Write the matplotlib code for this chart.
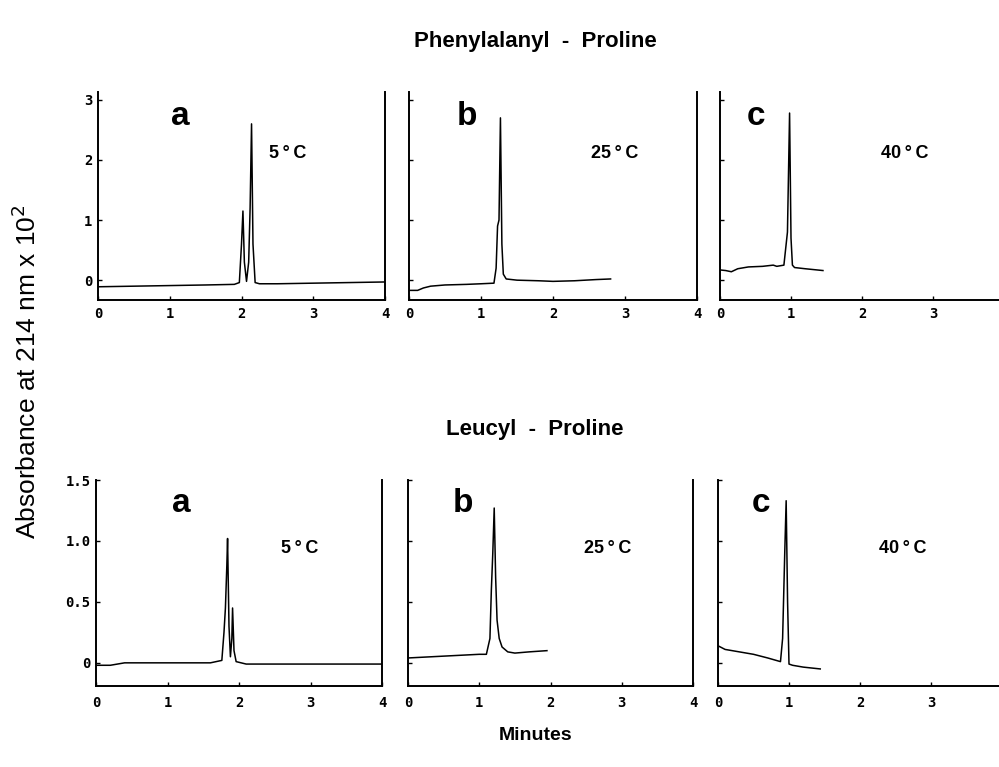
import numpy as np
import matplotlib.pyplot as plt

plt.rcParams['font.family'] = ['Liberation Sans', 'DejaVu Sans']

# Phenylalanyl - Proline (top row)
phe_5_t = [0, 0.5, 1.0, 1.5, 1.9, 1.97, 2.0, 2.02, 2.04, 2.07, 2.1, 2.12, 2.14, 2.16, 2.19, 2.25, 2.5, 3.0, 3.5, 4.0]
phe_5_a = [-0.11, -0.10, -0.09, -0.08, -0.07, -0.04, 0.6, 1.15, 0.3, -0.02, 0.3, 1.2, 2.6, 0.6, -0.04, -0.06, -0.06, -0.05, -0.04, -0.03]
phe_25_t = [0, 0.12, 0.2, 0.3, 0.5, 0.8, 1.0, 1.18, 1.21, 1.23, 1.25, 1.27, 1.29, 1.31, 1.35, 1.5, 1.8, 2.0, 2.3, 2.6, 2.8]
phe_25_a = [-0.17, -0.17, -0.13, -0.10, -0.08, -0.07, -0.06, -0.05, 0.2, 0.9, 1.0, 2.7, 0.6, 0.1, 0.02, 0.0, -0.01, -0.02, -0.01, 0.01, 0.02]
phe_40_t = [0, 0.08, 0.16, 0.25, 0.4, 0.6, 0.75, 0.8, 0.9, 0.95, 0.98, 1.0, 1.02, 1.05, 1.2, 1.45]
phe_40_a = [0.17, 0.16, 0.14, 0.19, 0.22, 0.23, 0.25, 0.23, 0.25, 0.8, 2.78, 0.7, 0.25, 0.21, 0.19, 0.16]

# Leucyl - Proline (bottom row)
leu_5_t = [0, 0.2, 0.4, 1.0, 1.6, 1.76, 1.79, 1.81, 1.83, 1.84, 1.86, 1.88, 1.90, 1.91, 1.93, 1.96, 2.1, 2.5, 3.0, 3.5, 4.0]
leu_5_a = [-0.02, -0.02, 0.0, 0.0, 0.0, 0.02, 0.25, 0.45, 0.8, 1.02, 0.3, 0.05, 0.2, 0.45, 0.1, 0.01, -0.01, -0.01, -0.01, -0.01, -0.01]
leu_25_t = [0, 0.5, 1.0, 1.1, 1.15, 1.17, 1.19, 1.21, 1.23, 1.25, 1.28, 1.32, 1.4, 1.5, 1.7, 1.95]
leu_25_a = [0.04, 0.055, 0.07, 0.07, 0.2, 0.6, 0.9, 1.27, 0.7, 0.35, 0.2, 0.13, 0.09, 0.08, 0.09, 0.1]
leu_40_t = [0, 0.1, 0.3, 0.5, 0.7, 0.88, 0.91, 0.94, 0.96, 0.98, 1.0, 1.05, 1.2, 1.44]
leu_40_a = [0.14, 0.11, 0.09, 0.07, 0.04, 0.01, 0.2, 0.9, 1.33, 0.5, -0.01, -0.02, -0.035, -0.05]

letters = ['a', 'b', 'c']
temps = ['5\u2009°\u2009C', '25\u2009°\u2009C', '40\u2009°\u2009C']
x_ticks = [0, 1, 2, 3, 4]
top_y_ticks = [0, 1, 2, 3]
top_y_labels = ['0', '1', '2', '3']
bot_y_ticks = [0, 0.5, 1.0, 1.5]
bot_y_labels = ['0', '0.5', '1.0', '1.5']

W, H = 999, 767
fig = plt.figure(figsize=(W / 100, H / 100), dpi=100)
tick_font = dict(family='DejaVu Sans Mono', fontsize=10, fontweight='bold')


def px_axes(x0, x1, y_top, y_bot):
    return fig.add_axes([x0 / W, 1 - y_bot / H, (x1 - x0) / W, (y_bot - y_top) / H])


def style(ax, ylim, yticks, ylabels, show_y, xpad, last_x):
    ax.set_xlim(0, 4)
    ax.set_ylim(*ylim)
    ax.spines['top'].set_visible(False)
    for s in ('left', 'right', 'bottom'):
        ax.spines[s].set_linewidth(1.4)
    ax.set_xticks(x_ticks)
    xl = [str(v) for v in x_ticks]
    if not last_x:
        xl[-1] = ''
    ax.set_xticklabels(xl, **tick_font)
    ax.set_yticks(yticks)
    if show_y:
        ax.set_yticklabels(ylabels, **tick_font)
    else:
        ax.set_yticklabels([])
    ax.tick_params(direction='in', length=3, width=1)
    ax.tick_params(axis='x', pad=xpad)
    ax.tick_params(axis='y', pad=4)


top_pos = [(98, 385), (409, 697), (720, 1004)]
bot_pos = [(96, 382), (408, 693), (718, 1002)]
top_data = [(phe_5_t, phe_5_a), (phe_25_t, phe_25_a), (phe_40_t, phe_40_a)]
bot_data = [(leu_5_t, leu_5_a), (leu_25_t, leu_25_a), (leu_40_t, leu_40_a)]
top_letter_x = [1.15, 0.8, 0.5]
top_temp_x = [2.65, 2.85, 2.6]
bot_letter_x = [1.2, 0.77, 0.6]
bot_temp_x = [2.85, 2.8, 2.6]

for i in range(3):
    ax = px_axes(top_pos[i][0], top_pos[i][1], 92, 300)
    t, a = top_data[i]
    ax.plot(t, a, color='black', lw=1.1)
    style(ax, (-0.33, 3.13), top_y_ticks, top_y_labels, i == 0, 5, i < 2)
    ax.text(top_letter_x[i], 2.72, letters[i], fontsize=24, fontweight='bold', ha='center', va='center')
    ax.text(top_temp_x[i], 2.1, temps[i], fontsize=13, fontweight='bold', ha='center', va='center')

for i in range(3):
    ax = px_axes(bot_pos[i][0], bot_pos[i][1], 480, 686)
    t, a = bot_data[i]
    ax.plot(t, a, color='black', lw=1.1)
    style(ax, (-0.19, 1.5), bot_y_ticks, bot_y_labels, i == 0, 7, i < 2)
    ax.text(bot_letter_x[i], 1.31, letters[i], fontsize=24, fontweight='bold', ha='center', va='center')
    ax.text(bot_temp_x[i], 0.94, temps[i], fontsize=13, fontweight='bold', ha='center', va='center')

fig.text(535 / W, 1 - 42 / H, 'Phenylalanyl  -  Proline', fontsize=16, fontweight='bold', ha='center', va='center')
fig.text(535 / W, 1 - 430 / H, 'Leucyl  -  Proline', fontsize=16, fontweight='bold', ha='center', va='center')
fig.text(536 / W, 1 - 735 / H, 'Minutes', fontsize=14, fontweight='bold', ha='center', va='center')
fig.text(27 / W, 1 - 372 / H, r'Absorbance at 214 nm x 10$^2$', fontsize=19, rotation=90, ha='center', va='center')

fig.savefig('out.png', dpi=100)
